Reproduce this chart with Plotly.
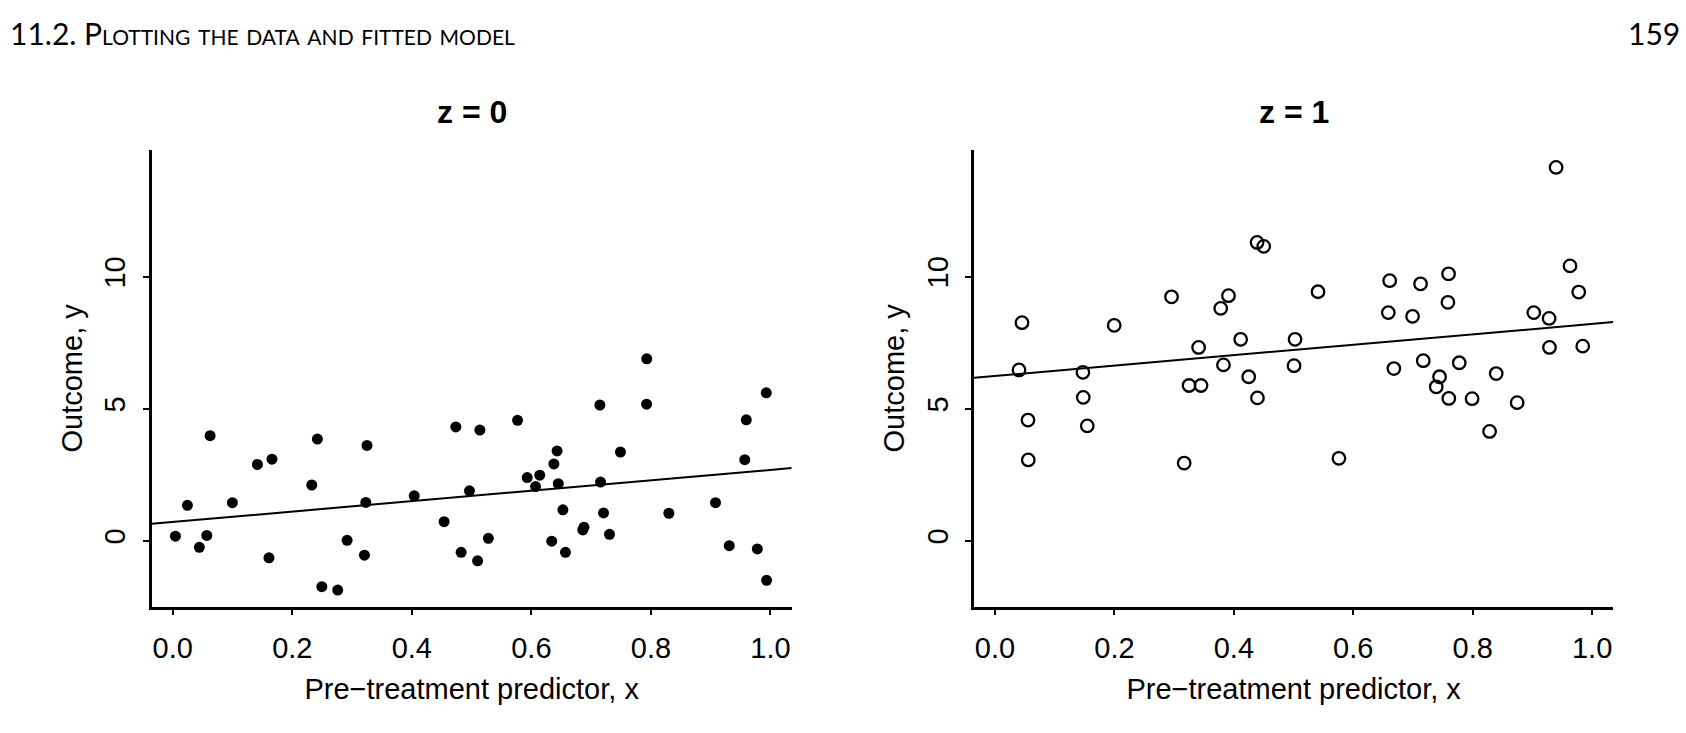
import plotly.graph_objects as go

# ---------------- data ----------------
x_z0 = [0.0625, 0.242, 0.325, 0.1417, 0.166, 0.2326, 0.0245, 0.0998, 0.323, 0.404,
        0.454, 0.0045, 0.057, 0.0445, 0.2917, 0.3207, 0.161, 0.2494, 0.276, 0.793,
        0.7927, 0.7146, 0.5768, 0.4736, 0.5138, 0.9595, 0.957, 0.643, 0.749, 0.6376,
        0.593, 0.614, 0.607, 0.645, 0.7157, 0.4964, 0.6527, 0.7207, 0.830, 0.908,
        0.528, 0.634, 0.686, 0.688, 0.7307, 0.4825, 0.51, 0.657, 0.931, 0.978,
        0.9935, 0.993]
y_z0 = [3.98, 3.85, 3.61, 2.89, 3.09, 2.11, 1.34, 1.44, 1.45, 1.70,
        0.72, 0.17, 0.20, -0.25, 0.015, -0.55, -0.65, -1.74, -1.87, 6.89,
        5.17, 5.14, 4.56, 4.31, 4.19, 4.58, 3.07, 3.40, 3.36, 2.91,
        2.39, 2.48, 2.05, 2.16, 2.22, 1.89, 1.17, 1.05, 1.04, 1.44,
        0.09, -0.02, 0.41, 0.51, 0.24, -0.44, -0.76, -0.44, -0.19, -0.31,
        -1.50, 5.60]

x_z1 = [0.0452, 0.0402, 0.0552, 0.0557, 0.1472, 0.1478, 0.1545, 0.1996, 0.2956, 0.3168,
        0.325, 0.345, 0.341, 0.378, 0.391, 0.4114, 0.3826, 0.4249, 0.4395, 0.4389,
        0.45, 0.541, 0.5025, 0.5008, 0.576, 0.661, 0.6587, 0.7127, 0.6993, 0.7596,
        0.7585, 0.668, 0.7172, 0.7775, 0.7445, 0.739, 0.760, 0.799, 0.8394, 0.8283,
        0.8745, 0.9023, 0.928, 0.9286, 0.9843, 0.963, 0.9776, 0.9397]
y_z1 = [8.26, 6.47, 4.57, 3.06, 6.38, 5.43, 4.35, 8.16, 9.24, 2.94,
        5.88, 5.88, 7.32, 8.80, 9.28, 7.63, 6.66, 6.21, 5.41, 11.30,
        11.15, 9.43, 7.63, 6.63, 3.12, 9.85, 8.64, 9.73, 8.50, 10.11,
        9.03, 6.52, 6.82, 6.74, 6.21, 5.83, 5.39, 5.38, 6.33, 4.14,
        5.23, 8.64, 8.42, 7.32, 7.37, 10.41, 9.42, 14.14]

# fitted model: y = a + b*x + theta*z
intercept = 0.71
slope = 1.97
treatment_effect = 5.53

x_tick_vals = [0.0, 0.2, 0.4, 0.6, 0.8, 1.0]
x_tick_text = ["0.0", "0.2", "0.4", "0.6", "0.8", "1.0"]
y_tick_vals = [0, 5, 10]
y_tick_text = ["0", "5", "10"]

panel_titles = ["z = 0", "z = 1"]
x_title = "Pre\u2212treatment predictor, x"
y_title = "Outcome, y"
header_text = "11.2. Plotting the data and fitted model"
page_number = "159"

# ---------------- layout constants ----------------
W, H = 1686, 733
XR = [-0.0352, 1.0355]
YR = [-2.5, 14.8]
FONT = "Liberation Sans, Arial, Helvetica, sans-serif"
HEAD_FONT = "Lato, Open Sans, sans-serif"
dom_x0 = [151.7 / W, 791.7 / W]
dom_x1 = [974.0 / W, 1613.3 / W]
dom_y = [(H - 606.7) / H, (H - 150.0) / H]

fig = go.Figure()

# panel z = 0
fig.add_trace(go.Scatter(x=x_z0, y=y_z0, mode="markers", xaxis="x", yaxis="y",
                         marker=dict(symbol="circle", size=11, color="black"),
                         showlegend=False, hoverinfo="x+y"))
fig.add_trace(go.Scatter(x=XR, y=[intercept + slope * v for v in XR], mode="lines",
                         xaxis="x", yaxis="y", line=dict(color="black", width=2),
                         showlegend=False, hoverinfo="skip"))
# panel z = 1
fig.add_trace(go.Scatter(x=x_z1, y=y_z1, mode="markers", xaxis="x2", yaxis="y2",
                         marker=dict(symbol="circle-open", size=12.5, color="black",
                                     line=dict(width=2.3, color="black")),
                         showlegend=False, hoverinfo="x+y"))
fig.add_trace(go.Scatter(x=XR, y=[intercept + treatment_effect + slope * v for v in XR],
                         mode="lines", xaxis="x2", yaxis="y2",
                         line=dict(color="black", width=2),
                         showlegend=False, hoverinfo="skip"))

tick_font = dict(family=FONT, size=29, color="black")
title_font = dict(family=FONT, size=29, color="black")


def xaxis_cfg(domain, anchor):
    return dict(domain=domain, anchor=anchor, range=XR, showline=True, linecolor="black",
                linewidth=2.5, ticks="outside", ticklen=6, tickwidth=2, tickcolor="black",
                tickvals=x_tick_vals, ticktext=x_tick_text, tickfont=tick_font,
                ticklabelstandoff=8, showgrid=False, zeroline=False, fixedrange=True,
                title=dict(text=x_title, font=title_font, standoff=16))


def yaxis_cfg(anchor):
    return dict(domain=dom_y, anchor=anchor, range=YR, showline=True, linecolor="black",
                linewidth=2.5, ticks="outside", ticklen=6, tickwidth=2, tickcolor="black",
                tickvals=y_tick_vals, ticktext=y_tick_text, tickfont=tick_font,
                tickangle=-90, ticklabelstandoff=6, showgrid=False, zeroline=False,
                fixedrange=True, title=dict(text=y_title, font=title_font, standoff=9))


fig.update_layout(
    width=W, height=H, autosize=False,
    margin=dict(l=0, r=0, t=0, b=0),
    paper_bgcolor="white", plot_bgcolor="white",
    xaxis=xaxis_cfg(dom_x0, "y"),
    yaxis=yaxis_cfg("x"),
    xaxis2=xaxis_cfg(dom_x1, "y2"),
    yaxis2=yaxis_cfg("x2"),
)

annotations = []
for title, dom in zip(panel_titles, [dom_x0, dom_x1]):
    annotations.append(dict(text="<b>" + title + "</b>", xref="paper", yref="paper",
                            x=(dom[0] + dom[1]) / 2, y=(H - 112) / H,
                            xanchor="center", yanchor="middle", showarrow=False,
                            font=dict(family=FONT, size=32, color="black")))
annotations.append(dict(text=header_text, xref="paper", yref="paper",
                        x=8 / W, y=(H - 33) / H, xanchor="left", yanchor="middle",
                        showarrow=False,
                        font=dict(family=HEAD_FONT, size=30, color="black",
                                  variant="small-caps")))
annotations.append(dict(text=page_number, xref="paper", yref="paper",
                        x=1682 / W, y=(H - 33) / H, xanchor="right", yanchor="middle",
                        showarrow=False,
                        font=dict(family=HEAD_FONT, size=30, color="black")))
fig.update_layout(annotations=annotations)

fig.write_html("out.html",
               config={"displayModeBar": False},
               post_script="document.body.style.margin='0';document.body.style.overflow='hidden';")
